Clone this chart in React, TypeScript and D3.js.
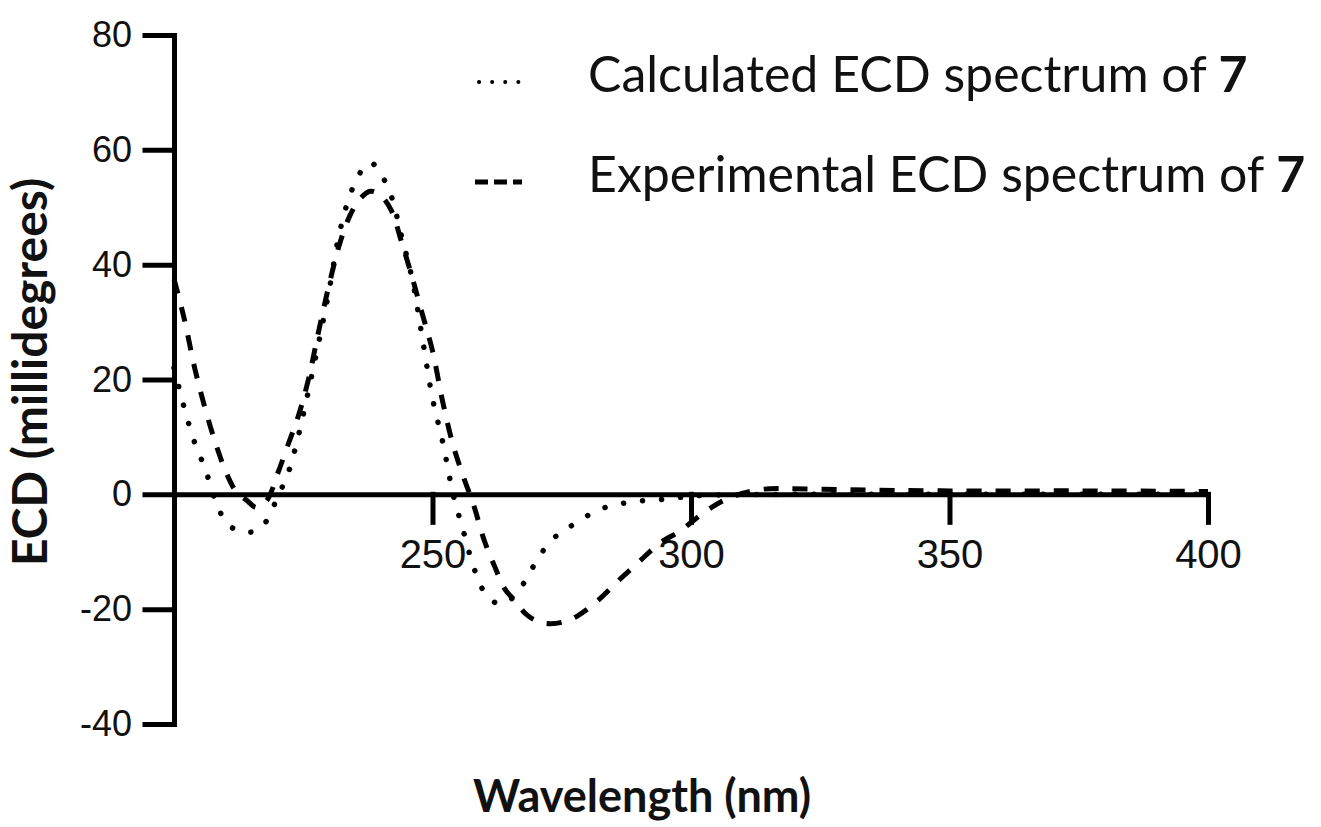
import React, { useEffect, useRef } from "react";
import * as d3 from "d3";

// calculated ECD spectrum of 7 (dotted)
const calcWavelength = [
  200, 202, 204, 206, 208, 210, 212, 214, 216, 218, 220, 222, 224, 226, 228,
  230, 232, 234, 236, 238, 240, 242, 244, 246, 248, 250, 252, 254, 256, 258,
  260, 262, 264, 266, 268, 270, 273, 276, 280, 284, 288, 292, 296, 300, 320,
  350, 400,
];
const calcEcd = [
  22, 15, 9, 4.5, -1, -4.8, -6.2, -6.6, -6.3, -4.5, -0.5, 3.5, 10, 18, 26.5,
  35.5, 45.5, 52, 56, 57.8, 55.8, 52, 45, 37.8, 27.4, 16.7, 9, 0, -6.5, -12.8,
  -17, -18.8, -19, -17.5, -15, -11.8, -8, -6, -3.7, -2.1, -1.4, -1, -0.8, -0.3,
  0, 0, 0,
];

// experimental ECD spectrum of 7 (dashed)
const expWavelength = [
  200, 202, 204, 206, 208, 210, 212, 214, 216, 218, 220, 222, 224, 226, 228,
  230, 232, 234, 236, 238, 240, 242, 244, 246, 248, 250, 252, 254, 256, 258,
  260, 262, 264, 266, 268, 270, 272, 275, 278, 282, 286, 290, 294, 298, 302,
  306, 310, 314, 318, 330, 350, 375, 400,
];
const expEcd = [
  37.5, 30.5, 22, 15, 9, 4, 0.5, -1, -2.3, -1, 3.5, 8.5, 13.5, 20, 28.5, 36.5,
  43.5, 48.5, 51.5, 52.8, 52, 49.5, 44, 38, 31.5, 25, 16, 8.5, 3, -2, -8,
  -12.5, -16.5, -18.6, -20.8, -22, -22.5, -22.3, -21.2, -18.5, -15, -11.7,
  -8.5, -6.3, -3.5, -1.2, 0.2, 0.9, 1.0, 0.8, 0.6, 0.6, 0.5,
];

const xTicks = [250, 300, 350, 400];
const yTicks = [-40, -20, 0, 20, 40, 60, 80];

const legendLabels = [
  "Calculated ECD spectrum of ",
  "Experimental ECD spectrum of ",
];
const compoundLabel = "7";

const textFont = "Lato, 'Open Sans', sans-serif";
const tickFont = "'Liberation Sans', Arial, sans-serif";

export default function App() {
  const ref = useRef<SVGSVGElement | null>(null);

  useEffect(() => {
    document.body.style.margin = "0";
    const svg = d3.select(ref.current);
    svg.selectAll("*").remove();

    const x = d3.scaleLinear().domain([200, 400]).range([174, 1208]);
    const y = d3.scaleLinear().domain([-40, 80]).range([724, 35]);

    const line = d3
      .line<[number, number]>()
      .x((d) => x(d[0]))
      .y((d) => y(d[1]))
      .curve(d3.curveCatmullRom);

    const calc = calcWavelength.map((w, i) => [w, calcEcd[i]] as [number, number]);
    const exp = expWavelength.map((w, i) => [w, expEcd[i]] as [number, number]);

    // axes (plain hyphen for negatives, as in the original)
    const yAxis = d3
      .axisLeft(y)
      .tickValues(yTicks)
      .tickSize(29)
      .tickSizeOuter(0)
      .tickPadding(13)
      .tickFormat((d) => String(d));
    const gy = svg.append("g").attr("transform", `translate(174,0)`).call(yAxis);
    gy.selectAll("text").style("font-size", "36px");

    const xAxis = d3
      .axisBottom(x)
      .tickValues(xTicks)
      .tickSize(28)
      .tickSizeOuter(0)
      .tickPadding(17)
      .tickFormat((d) => String(d));
    const gx = svg.append("g").attr("transform", `translate(0,${y(0)})`).call(xAxis);
    gx.selectAll("text").style("font-size", "40px");

    [gx, gy].forEach((g) => {
      g.selectAll("path, line")
        .attr("stroke", "#000")
        .attr("stroke-width", 5)
        .attr("stroke-linecap", "square");
      g.selectAll("text").attr("fill", "#111").style("font-family", tickFont);
    });

    // series
    svg
      .append("path")
      .datum(exp)
      .attr("d", line)
      .attr("fill", "none")
      .attr("stroke", "#000")
      .attr("stroke-width", 5)
      .attr("stroke-dasharray", "15 14");

    svg
      .append("path")
      .datum(calc)
      .attr("d", line)
      .attr("fill", "none")
      .attr("stroke", "#000")
      .attr("stroke-width", 5.5)
      .attr("stroke-linecap", "round")
      .attr("stroke-dasharray", "0.1 19");

    // legend
    const legend = svg.append("g");
    legendLabels.forEach((label, i) => {
      const ly = 82 + i * 100;
      legend
        .append("line")
        .attr("x1", i === 0 ? 479 : 475)
        .attr("x2", 522)
        .attr("y1", ly)
        .attr("y2", ly)
        .attr("stroke", "#000")
        .attr("stroke-width", i === 0 ? 4 : 5)
        .attr("stroke-linecap", i === 0 ? "round" : "butt")
        .attr("stroke-dasharray", i === 0 ? "0.1 13" : "13 6");
      const t = legend
        .append("text")
        .attr("x", 588)
        .attr("y", ly + 10)
        .style("font-family", textFont)
        .style("font-size", "50px")
        .attr("fill", "#111")
        .text(label);
      t.append("tspan").style("font-weight", "bold").text(compoundLabel);
    });

    // axis titles
    svg
      .append("text")
      .attr("transform", `translate(47,372) rotate(-90)`)
      .attr("text-anchor", "middle")
      .style("font-family", textFont)
      .style("font-weight", "bold")
      .style("font-size", "48px")
      .attr("fill", "#111")
      .text("ECD (millidegrees)");

    svg
      .append("text")
      .attr("x", 642)
      .attr("y", 812)
      .attr("text-anchor", "middle")
      .style("font-family", textFont)
      .style("font-weight", "bold")
      .style("font-size", "45px")
      .attr("fill", "#111")
      .text("Wavelength (nm)");
  }, []);

  return <svg ref={ref} width={1321} height={827} style={{ display: "block", background: "#fff" }} />;
}
